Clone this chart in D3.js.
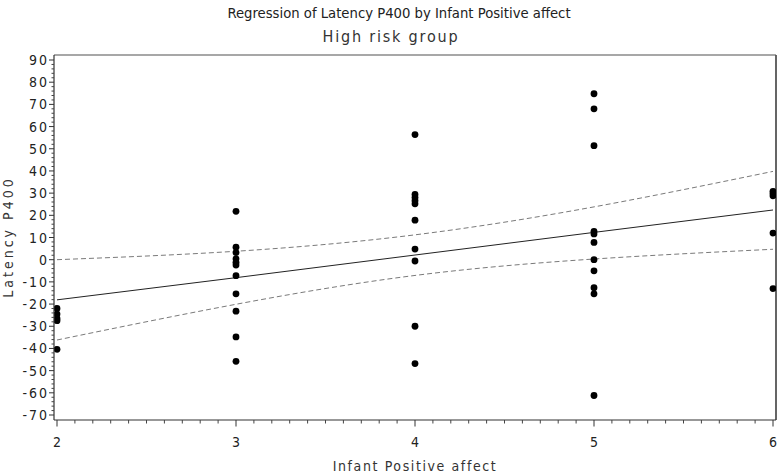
<!DOCTYPE html>
<html>
<head>
<meta charset="utf-8">
<script src="https://cdn.jsdelivr.net/npm/d3@7"></script>
<style>
  html, body { margin: 0; padding: 0; background: #fff; }
  svg { display: block; }
  text { font-family: "Liberation Sans Narrow", "DejaVu Sans Condensed", "Liberation Sans", sans-serif; fill: #222; }
</style>
</head>
<body>
<svg id="chart" width="779" height="473"></svg>
<script>
// ---- data ----
const title = "Regression of Latency P400 by Infant Positive affect";
const subtitle = "High risk group";
const xLabel = "Infant Positive affect";
const yLabel = "Latency P400";

const xTicks = [2, 3, 4, 5, 6];
const yTicks = [90, 80, 70, 60, 50, 40, 30, 20, 10, 0, -10, -20, -30, -40, -50, -60, -70];

// observations: infant positive affect (x) and latency P400 (y)
const obsX = [2, 2, 2, 2, 2,
              3, 3, 3, 3, 3, 3, 3, 3, 3, 3, 3,
              4, 4, 4, 4, 4, 4, 4, 4, 4, 4,
              5, 5, 5, 5, 5, 5, 5, 5, 5, 5, 5,
              6, 6, 6, 6, 6];
const obsY = [-22, -24.5, -26.5, -27.5, -40.4,
              21.8, 5.6, 3.2, 0.4, -1.2, -2.4, -7.2, -15.4, -23.2, -34.8, -45.8,
              56.4, 29.4, 28, 26.6, 25.2, 17.8, 4.8, -0.6, -30, -46.8,
              74.8, 68, 51.4, 12.8, 11.6, 7.8, 0, -5, -12.6, -15.4, -61.2,
              30.8, 29.8, 28.8, 12, -13];

// fitted regression line and 95% confidence limits
const fitX   = [2, 3, 4, 5, 6];
const fitY   = [-18.1, -8.1, 2.1, 12.3, 22.4];
const upperY = [0, 3.8, 11.2, 23.8, 39.8];
const lowerY = [-36.2, -20.1, -7.1, 0.3, 4.7];

// ---- layout ----
const svg = d3.select("#chart");
const frame = { left: 54, right: 776, top: 55, bottom: 420 };

const x = d3.scaleLinear().domain([2, 6]).range([57, 773]);
const y = d3.scaleLinear().domain([-70, 90]).range([415, 60]);

// titles
svg.append("text")
  .attr("x", 399).attr("y", 17.5)
  .attr("text-anchor", "middle")
  .style("font-size", "14.7px")
  .text(title);

svg.append("text")
  .attr("x", 391).attr("y", 42)
  .attr("text-anchor", "middle")
  .style("font-size", "16px")
  .style("letter-spacing", "1.8px")
  .style("fill", "#333")
  .text(subtitle);

// frame top / right
svg.append("line")
  .attr("x1", frame.left).attr("x2", frame.right)
  .attr("y1", frame.top).attr("y2", frame.top)
  .attr("stroke", "#8a8a8a").attr("stroke-width", 1.6);
svg.append("line")
  .attr("x1", frame.right).attr("x2", frame.right)
  .attr("y1", frame.top).attr("y2", frame.bottom)
  .attr("stroke", "#555").attr("stroke-width", 1.8);

// clip
svg.append("clipPath").attr("id", "plotclip")
  .append("rect")
  .attr("x", frame.left).attr("y", frame.top)
  .attr("width", frame.right - frame.left).attr("height", frame.bottom - frame.top);

const plot = svg.append("g").attr("clip-path", "url(#plotclip)");

// confidence limits
const ciLine = d3.line()
  .x((d, i) => x(fitX[i]))
  .y(d => y(d))
  .curve(d3.curveNatural);

[upperY, lowerY].forEach(arr => {
  plot.append("path")
    .datum(arr)
    .attr("d", ciLine)
    .attr("fill", "none")
    .attr("stroke", "#7a7a7a")
    .attr("stroke-width", 1)
    .attr("stroke-dasharray", "5,3");
});

// fit line
plot.append("path")
  .datum(fitY)
  .attr("d", d3.line().x((d, i) => x(fitX[i])).y(d => y(d)))
  .attr("fill", "none")
  .attr("stroke", "#222")
  .attr("stroke-width", 1);

// points
plot.selectAll("circle.pt")
  .data(obsY)
  .join("circle")
  .attr("class", "pt")
  .attr("cx", (d, i) => x(obsX[i]))
  .attr("cy", d => y(d))
  .attr("r", 3.4)
  .attr("fill", "#000");

// y axis
const yAxisG = svg.append("g").attr("transform", `translate(${frame.left},0)`);
yAxisG.append("line")
  .attr("x1", 0).attr("x2", 0)
  .attr("y1", frame.top).attr("y2", frame.bottom)
  .attr("stroke", "#333").attr("stroke-width", 1.2);

const yMinor = d3.range(-70, 90.001, 2).filter(v => v % 10 !== 0);
yAxisG.selectAll("line.ymin").data(yMinor).join("line")
  .attr("class", "ymin")
  .attr("x1", -2.5).attr("x2", 0)
  .attr("y1", d => y(d)).attr("y2", d => y(d))
  .attr("stroke", "#444").attr("stroke-width", 1);

yAxisG.selectAll("line.ymaj").data(yTicks).join("line")
  .attr("class", "ymaj")
  .attr("x1", -5).attr("x2", 0)
  .attr("y1", d => y(d)).attr("y2", d => y(d))
  .attr("stroke", "#333").attr("stroke-width", 1);

yAxisG.selectAll("text.ylab").data(yTicks).join("text")
  .attr("class", "ylab")
  .attr("x", -5)
  .attr("y", d => y(d) + 5)
  .attr("text-anchor", "end")
  .style("font-size", "14px")
  .style("letter-spacing", "2px")
  .text(d => String(d));

// x axis
const xAxisG = svg.append("g").attr("transform", `translate(0,${frame.bottom})`);
xAxisG.append("line")
  .attr("x1", frame.left).attr("x2", frame.right)
  .attr("y1", 0).attr("y2", 0)
  .attr("stroke", "#333").attr("stroke-width", 1.2);

const xMinor = d3.range(2, 6.0001, 0.1).filter(v => Math.abs(v - Math.round(v)) > 1e-6);
xAxisG.selectAll("line.xmin").data(xMinor).join("line")
  .attr("class", "xmin")
  .attr("x1", d => x(d)).attr("x2", d => x(d))
  .attr("y1", 0).attr("y2", 3.5)
  .attr("stroke", "#444").attr("stroke-width", 1);

xAxisG.selectAll("line.xmaj").data(xTicks).join("line")
  .attr("class", "xmaj")
  .attr("x1", d => x(d)).attr("x2", d => x(d))
  .attr("y1", 0).attr("y2", 6.5)
  .attr("stroke", "#333").attr("stroke-width", 1);

xAxisG.selectAll("text.xlab").data(xTicks).join("text")
  .attr("class", "xlab")
  .attr("x", d => x(d))
  .attr("y", 27)
  .attr("text-anchor", "middle")
  .style("font-size", "14px")
  .text(d => String(d));

// axis titles
svg.append("text")
  .attr("x", 415).attr("y", 471)
  .attr("text-anchor", "middle")
  .style("font-size", "14px")
  .style("letter-spacing", "1.6px")
  .style("fill", "#333")
  .text(xLabel);

svg.append("text")
  .attr("transform", "translate(13,237) rotate(-90)")
  .attr("text-anchor", "middle")
  .style("font-size", "14px")
  .style("letter-spacing", "3px")
  .style("fill", "#333")
  .text(yLabel);
</script>
</body>
</html>
